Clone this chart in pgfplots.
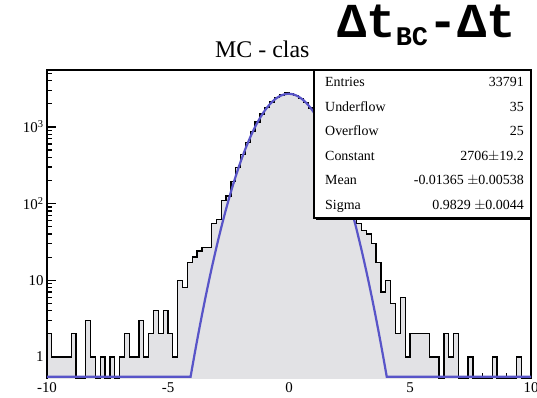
\documentclass[border=0pt]{standalone}
\usepackage{pgfplots}
\pgfplotsset{compat=1.18}
\usepackage{pgfplotstable}
\usepackage{fontspec}
\setmainfont{Liberation Serif}
\setmonofont{Liberation Mono}
\definecolor{histfill}{RGB}{226,226,229}
\definecolor{fitblue}{RGB}{88,84,200}
\pgfplotstableread{
x y
-10.0 0.01
-10.0 2
-9.8 1
-9.6 1
-9.4 1
-9.2 1
-9.0 2
-8.8 0.01
-8.6 0.01
-8.4 3
-8.2 1
-8.0 0.01
-7.8 1
-7.6 0.01
-7.4 1
-7.2 0.01
-7.0 1
-6.8 2
-6.6 1
-6.4 1
-6.2 3
-6.0 1
-5.8 2
-5.6 4
-5.4 2
-5.2 4
-5.0 2
-4.8 1
-4.6 10
-4.4 8
-4.2 17
-4.0 20
-3.8 24
-3.6 27
-3.4 27
-3.2 55
-3.0 62
-2.8 110
-2.6 125
-2.4 195
-2.2 295
-2.0 440
-1.8 630
-1.6 870
-1.4 1160
-1.2 1480
-1.0 1810
-0.8 2120
-0.6 2400
-0.4 2600
-0.2 2760
0.0 2740
0.2 2590
0.4 2370
0.6 2080
0.8 1760
1.0 1420
1.2 1110
1.4 830
1.6 600
1.8 415
2.0 280
2.2 180
2.4 115
2.6 75
2.8 55
3.0 45
3.2 40
3.4 30
3.6 17
3.8 7
4.0 10
4.2 5
4.4 2
4.6 6
4.8 1
5.0 2
5.2 2
5.4 2
5.6 2
5.8 1
6.0 1
6.2 0.01
6.4 2
6.6 1
6.8 2
7.0 0.01
7.2 0.01
7.4 1
7.6 0.01
7.8 0.01
8.0 0.01
8.2 0.01
8.4 1
8.6 0.01
8.8 0.01
9.0 0.01
9.2 0.01
9.4 1
9.6 0.01
9.8 0.01
10.0 0.01
}\histdata
\pgfplotstableread{
x y
-10 0.55
-4.067 0.55
-4.0 0.725
-3.9 1.092
-3.8 1.622
-3.7 2.39
-3.6 3.479
-3.5 5.02
-3.4 7.159
-3.3 10.1
-3.2 14.14
-3.1 19.5
-3.0 26.78
-2.9 36.3
-2.8 48.67
-2.7 64.6
-2.6 84.88
-2.5 110.4
-2.4 142.0
-2.3 181
-2.2 228.0
-2.1 284
-2.0 351.2
-1.9 429
-1.8 518.9
-1.7 621
-1.6 735.7
-1.5 863
-1.4 1000.8
-1.3 1150
-1.2 1306.1
-1.1 1469
-1.0 1635.5
-0.9 1802
-0.8 1964.9
-0.7 2121
-0.6 2264.9
-0.5 2394
-0.4 2504.8
-0.3 2593
-0.2 2657.8
-0.1 2696
0.0 2705.7
0.1 2688
0.2 2642.8
0.3 2572
0.4 2476.7
0.5 2361
0.6 2226.8
0.7 2079
0.8 1921.0
0.9 1757
1.0 1590.0
1.1 1424
1.2 1262.6
1.3 1108
1.4 961.9
1.5 827
1.6 703.2
1.7 592
1.8 493.2
1.9 407
2.0 331.9
2.1 268
2.2 214.2
2.3 169
2.4 132.7
2.5 103
2.6 78.87
2.7 59.9
2.8 44.97
2.9 33.4
3.0 24.60
3.1 17.9
3.2 12.91
3.3 9.2
3.4 6.503
3.5 4.544
3.6 3.142
3.7 2.151
3.8 1.457
3.9 0.976
4.0 0.648
4.039 0.55
10 0.55
}\fitdata
\begin{document}
\begin{tikzpicture}
\useasboundingbox (0,0) rectangle (537bp,398bp);
\begin{axis}[
  at={(47bp,20bp)}, anchor=south west,
  scale only axis, width=484bp, height=308bp,
  xmin=-10, xmax=10, ymode=log, ymin=0.53, ymax=5530,
  axis line style={line width=1.6bp},
  xtick={-10,-5,0,5,10}, xticklabels={-10,-5,0,5,10},
  minor xtick={-9,-8,-7,-6,-4,-3,-2,-1,1,2,3,4,6,7,8,9},
  ytick={1,10,100,1000}, yticklabels={1,10,10\textsuperscript{2},10\textsuperscript{3}},
  minor ytick={2,3,4,5,6,7,8,9,20,30,40,50,60,70,80,90,200,300,400,500,600,700,800,900,2000,3000,4000,5000},
  tick align=inside, xtick pos=bottom, ytick pos=left,
  major tick length=9bp, minor tick length=5bp,
  every tick/.style={black, line width=1.2bp},
  tick label style={font=\fontsize{15}{15}\selectfont},
  xticklabel style={yshift=-1bp},
]
\addplot[const plot, fill=histfill, draw=black, line width=1.3bp] table[x=x,y=y]{\histdata};
\addplot[fitblue, line width=2.2bp] table[x=x,y=y]{\fitdata};
\end{axis}
% stats box
\fill[black] (316bp,178bp) rectangle (532bp,326bp);
\draw[line width=1.3bp, fill=white] (314bp,180bp) rectangle (531bp,328bp);
\begin{scope}[every node/.style={inner sep=0, anchor=base, font=\fontsize{14}{14}\selectfont}]
\node[anchor=base west] at (325bp,311bp) {Entries};
\node[anchor=base east] at (524bp,311bp) {33791};
\node[anchor=base west] at (325bp,286.5bp) {Underflow};
\node[anchor=base east] at (524bp,286.5bp) {35};
\node[anchor=base west] at (325bp,262bp) {Overflow};
\node[anchor=base east] at (524bp,262bp) {25};
\node[anchor=base west] at (325bp,237.5bp) {Constant};
\node[anchor=base east] at (524bp,237.5bp) {2706\(\pm\)19.2};
\node[anchor=base west] at (325bp,213bp) {Mean};
\node[anchor=base east] at (524bp,213bp) {-0.01365 \(\pm\)0.00538};
\node[anchor=base west] at (325bp,188.5bp) {Sigma};
\node[anchor=base east] at (524bp,188.5bp) {0.9829 \(\pm\)0.0044};
\end{scope}
\node[anchor=base west, inner sep=0, font=\fontsize{24}{24}\selectfont] at (215bp,340bp) {MC - clas};
\node[anchor=base west, inner sep=0] at (337bp,360bp) {\fontsize{49}{49}\selectfont\ttfamily\bfseries Δt\raisebox{-8bp}{\fontsize{27}{27}\selectfont BC}-Δt};
\end{tikzpicture}
\end{document}
